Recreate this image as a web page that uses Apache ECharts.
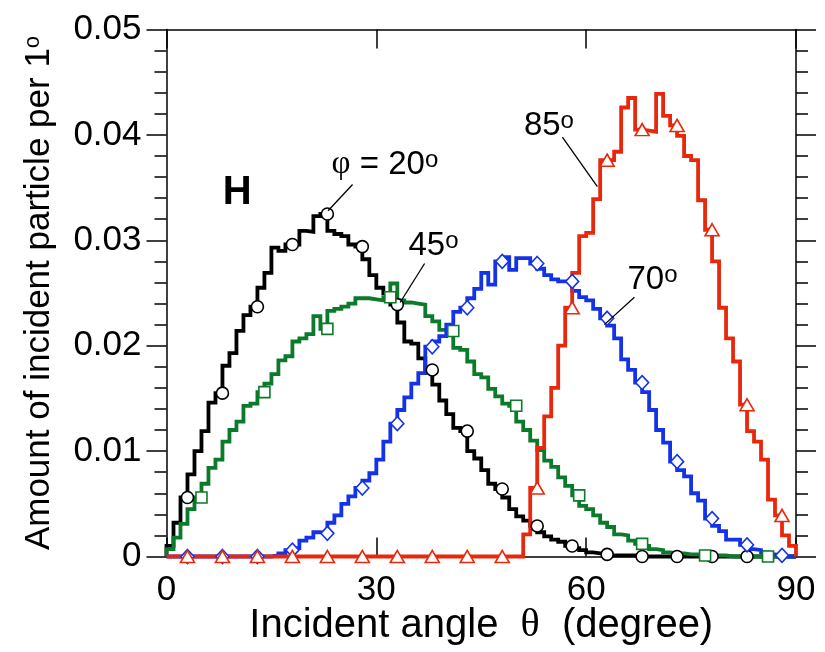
<!DOCTYPE html>
<html>
<head>
<meta charset="utf-8">
<script src="https://cdn.jsdelivr.net/npm/echarts@6/dist/echarts.min.js"></script>
<style>
html, body { margin: 0; padding: 0; background: #fff; }
#chart { width: 825px; height: 652px; }
</style>
</head>
<body>
<div id="chart"></div>
<script>
// amount per 1 degree bin, bin i = [i, i+1] degrees
const phi20 = [
  0.0010, 0.0032, 0.0056, 0.0078, 0.0100, 0.0119, 0.0146, 0.0155, 0.0181, 0.0193,
  0.0214, 0.0229, 0.0237, 0.0255, 0.0269, 0.0293, 0.0290, 0.0296, 0.0296, 0.0309,
  0.0308, 0.0323, 0.0325, 0.0309, 0.0306, 0.0304, 0.0296, 0.0294, 0.0282, 0.0267,
  0.0255, 0.0250, 0.0239, 0.0222, 0.0204, 0.0202, 0.0188, 0.0177, 0.0163, 0.0148,
  0.0135, 0.0122, 0.0119, 0.0100, 0.0093, 0.0082, 0.0069, 0.0064, 0.0056, 0.0045,
  0.0038, 0.0034, 0.0029, 0.0023, 0.0019, 0.0016, 0.0014, 0.0010, 0.0008, 0.0006,
  0.0004, 0.0003, 0.0002, 0.0001, 0.0001, 0.0001, 0.0001, 0, 0, 0,
  0, 0, 0, 0, 0, 0, 0, 0, 0, 0,
  0, 0, 0, 0, 0, 0, 0, 0, 0, 0
];
const phi45 = [
  0.0007, 0.0018, 0.0031, 0.0045, 0.0056, 0.0069, 0.0084, 0.0092, 0.0109, 0.0120,
  0.0128, 0.0143, 0.0145, 0.0156, 0.0164, 0.0173, 0.0186, 0.0190, 0.0204, 0.0207,
  0.0211, 0.0228, 0.0216, 0.0233, 0.0235, 0.0237, 0.0240, 0.0245, 0.0245, 0.0244,
  0.0243, 0.0246, 0.0259, 0.0243, 0.0241, 0.0240, 0.0239, 0.0228, 0.0223, 0.0215,
  0.0214, 0.0198, 0.0196, 0.0185, 0.0173, 0.0170, 0.0159, 0.0152, 0.0145, 0.0143,
  0.0128, 0.0120, 0.0110, 0.0101, 0.0091, 0.0085, 0.0075, 0.0067, 0.0058, 0.0048,
  0.0045, 0.0039, 0.0032, 0.0028, 0.0021, 0.0020, 0.0015, 0.0012, 0.0010, 0.0007,
  0.0006, 0.0004, 0.0003, 0.0003, 0.0002, 0.0002, 0.0001, 0.0001, 0.0001, 0.0001,
  0, 0, 0, 0, 0, 0, 0, 0, 0, 0
];
const phi70 = [
  0, 0, 0, 0, 0, 0, 0, 0, 0, 0,
  0, 0, 0, 0, 0, 0.0001, 0.0003, 0.0006, 0.0008, 0.0015,
  0.0018, 0.0023, 0.0022, 0.0032, 0.0039, 0.0050, 0.0057, 0.0065, 0.0072, 0.0079,
  0.0092, 0.0109, 0.0126, 0.0139, 0.0151, 0.0164, 0.0174, 0.0199, 0.0204, 0.0209,
  0.0220, 0.0232, 0.0236, 0.0245, 0.0254, 0.0269, 0.0258, 0.0280, 0.0284, 0.0272,
  0.0283, 0.0283, 0.0278, 0.0273, 0.0267, 0.0263, 0.0261, 0.0261, 0.0252, 0.0246,
  0.0243, 0.0235, 0.0226, 0.0219, 0.0207, 0.0187, 0.0177, 0.0165, 0.0156, 0.0139,
  0.0120, 0.0108, 0.0090, 0.0082, 0.0076, 0.0060, 0.0053, 0.0036, 0.0029, 0.0024,
  0.0016, 0.0016, 0.0011, 0.0007, 0.0006, 0.0004, 0.0002, 0.0001, 0, 0
];
const phi85 = [
  0, 0, 0, 0, 0, 0, 0, 0, 0, 0,
  0, 0, 0, 0, 0, 0, 0, 0, 0, 0,
  0, 0, 0, 0, 0, 0, 0, 0, 0, 0,
  0, 0, 0, 0, 0, 0, 0, 0, 0, 0,
  0, 0, 0, 0, 0, 0, 0, 0, 0, 0,
  0, 0.0021, 0.0065, 0.0103, 0.0133, 0.0160, 0.0200, 0.0236, 0.0269, 0.0304,
  0.0307, 0.0339, 0.0376, 0.0376, 0.0384, 0.0426, 0.0435, 0.0405, 0.0404, 0.0403,
  0.0439, 0.0418, 0.0409, 0.0399, 0.0380, 0.0376, 0.0338, 0.0310, 0.0280, 0.0236,
  0.0207, 0.0185, 0.0144, 0.0119, 0.0109, 0.0092, 0.0054, 0.0039, 0.0020, 0.0010
];

// angles where the symbols sit
const marks20 = [3, 8, 13, 18, 23, 28, 33, 38, 43, 48, 53, 58, 63, 68, 73, 78, 83];
const marks45 = [5, 14, 23, 32, 41, 50, 59, 68, 77, 86];
const marks70 = [3, 8, 13, 18, 23, 28, 33, 38, 43, 48, 53, 58, 63, 68, 73, 78, 83, 88];
const marks85 = [3, 8, 13, 18, 23, 28, 33, 38, 43, 48, 53, 58, 63, 68, 73, 78, 83, 88];

const xTicks = [0, 30, 60, 90];
const yTicks = [0, 0.01, 0.02, 0.03, 0.04, 0.05];

// callouts, in data coordinates
const notes = [
  { text: '{b|H}', at: [10.1, 0.0345], align: 'center' },
  { text: '{g|φ}{n| = 20}{s|o}', at: [23.6, 0.0372], align: 'left' },
  { text: '{n|45}{s|o}', at: [34.6, 0.0295], align: 'left' },
  { text: '{n|85}{s|o}', at: [51.1, 0.0409], align: 'left' },
  { text: '{n|70}{s|o}', at: [65.9, 0.0262], align: 'left' }
];
const leaders = [
  [[23.1, 0.0328], [26.6, 0.0353]],
  [[36.9, 0.0278], [33.4, 0.0241]],
  [[56.6, 0.0398], [61.6, 0.0351]],
  [[66.9, 0.0246], [62.6, 0.0220]]
];

const FONT = 'Liberation Sans, Arial, Helvetica, sans-serif';
const SERIF = 'Liberation Serif, Times New Roman, serif';

const chart = echarts.init(document.getElementById('chart'), null, { renderer: 'canvas' });

function stepData(arr) {
  const pts = [[0, 0]];
  arr.forEach((v, i) => pts.push([i, v]));
  pts.push([arr.length, arr[arr.length - 1]]);
  pts.push([arr.length, 0]);
  return pts;
}

function markData(arr, marks) {
  return marks.map(t => [t, arr[t - 1]]);
}

const curves = [
  { data: phi20, marks: marks20, color: '#000000', symbol: 'circle', size: 12 },
  { data: phi45, marks: marks45, color: '#0b7a2b', symbol: 'rect', size: 11 },
  { data: phi70, marks: marks70, color: '#1432e6', symbol: 'diamond', size: [13, 14] },
  { data: phi85, marks: marks85, color: '#e8280c', symbol: 'triangle', size: [14, 12] }
];

const series = [];
curves.forEach((c, i) => {
  series.push({
    type: 'line',
    step: 'end',
    data: stepData(c.data),
    symbol: 'none',
    clip: false,
    silent: true,
    z: 2 + i,
    lineStyle: { color: c.color, width: 3.8, join: 'miter', cap: 'butt' }
  });
});
curves.forEach((c, i) => {
  series.push({
    type: 'scatter',
    data: markData(c.data, c.marks),
    symbol: c.symbol,
    symbolSize: c.size,
    silent: true,
    z: 10 + i,
    itemStyle: { color: '#ffffff', opacity: 1, borderColor: c.color, borderWidth: 1.6 }
  });
});

const axisLine = { show: true, onZero: false, lineStyle: { color: '#000', width: 1.5 } };
const tickLine = { color: '#000', width: 1.5 };

chart.setOption({
  animation: false,
  backgroundColor: '#ffffff',
  grid: { left: 166.5, right: 29, top: 29.5, bottom: 95.5, containLabel: false, outerBoundsMode: 'none' },
  xAxis: [
    {
      type: 'value', min: xTicks[0], max: xTicks[xTicks.length - 1], interval: 30,
      position: 'bottom',
      axisLine: axisLine,
      axisTick: { show: true, inside: true, length: 19, lineStyle: tickLine },
      axisLabel: { fontSize: 35, color: '#000', fontFamily: FONT, margin: 16 },
      splitLine: { show: false },
      name: '{n|Incident angle  }{t|θ}{n|  (degree)}',
      nameLocation: 'middle',
      nameGap: 49,
      nameMoveOverlap: false,
      nameTextStyle: {
        color: '#000', fontSize: 40, fontFamily: FONT,
        rich: {
          n: { fontSize: 40, fontFamily: FONT, color: '#000' },
          t: { fontSize: 40, fontFamily: SERIF, color: '#000' }
        }
      }
    },
    {
      type: 'value', min: xTicks[0], max: xTicks[xTicks.length - 1], interval: 30,
      position: 'top',
      axisLine: axisLine,
      axisTick: { show: true, inside: true, length: 19, lineStyle: tickLine },
      axisLabel: { show: false },
      splitLine: { show: false }
    }
  ],
  yAxis: [
    {
      type: 'value', min: yTicks[0], max: yTicks[yTicks.length - 1], interval: 0.01,
      position: 'left',
      axisLine: axisLine,
      axisTick: { show: true, inside: false, length: 20, lineStyle: tickLine },
      minorTick: { show: true, splitNumber: 5, length: 12, lineStyle: tickLine },
      axisLabel: {
        fontSize: 35, color: '#000', fontFamily: FONT, margin: 25,
        formatter: v => (v === 0 ? '0' : v.toFixed(2))
      },
      splitLine: { show: false },
      minorSplitLine: { show: false },
      name: '{n|Amount of incident particle per 1}{s|o}',
      nameLocation: 'middle',
      nameRotate: 90,
      nameGap: 110,
      nameMoveOverlap: false,
      nameTextStyle: {
        color: '#000', fontSize: 35, fontFamily: FONT,
        rich: {
          n: { fontSize: 35, fontFamily: FONT, color: '#000', verticalAlign: 'bottom' },
          s: { fontSize: 22, fontFamily: FONT, color: '#000', verticalAlign: 'top' }
        }
      }
    },
    {
      type: 'value', min: yTicks[0], max: yTicks[yTicks.length - 1], interval: 0.01,
      position: 'right',
      axisLine: axisLine,
      axisTick: { show: true, inside: false, length: 20, lineStyle: tickLine },
      minorTick: { show: true, splitNumber: 5, length: 12, lineStyle: tickLine },
      axisLabel: { show: false },
      splitLine: { show: false },
      minorSplitLine: { show: false }
    }
  ],
  series: series
});

// callout texts and leader lines
const rich = {
  b: { fontSize: 40, fontWeight: 'bold', fontFamily: FONT, color: '#000' },
  g: { fontSize: 33, fontFamily: SERIF, color: '#000', verticalAlign: 'bottom' },
  n: { fontSize: 33, fontFamily: FONT, color: '#000', verticalAlign: 'bottom' },
  s: { fontSize: 24, fontFamily: FONT, color: '#000', verticalAlign: 'top' }
};
const toPx = p => chart.convertToPixel({ xAxisIndex: 0, yAxisIndex: 0 }, p);
const graphic = [];
leaders.forEach(l => {
  const a = toPx(l[0]), b = toPx(l[1]);
  graphic.push({
    type: 'line', silent: true, z: 20,
    shape: { x1: a[0], y1: a[1], x2: b[0], y2: b[1] },
    style: { stroke: '#000', lineWidth: 1.3 }
  });
});
notes.forEach(n => {
  const p = toPx(n.at);
  graphic.push({
    type: 'text', silent: true, z: 20, x: p[0], y: p[1],
    style: { text: n.text, rich: rich, align: n.align, verticalAlign: 'middle', fill: '#000' }
  });
});
chart.setOption({ graphic: graphic });
</script>
</body>
</html>
